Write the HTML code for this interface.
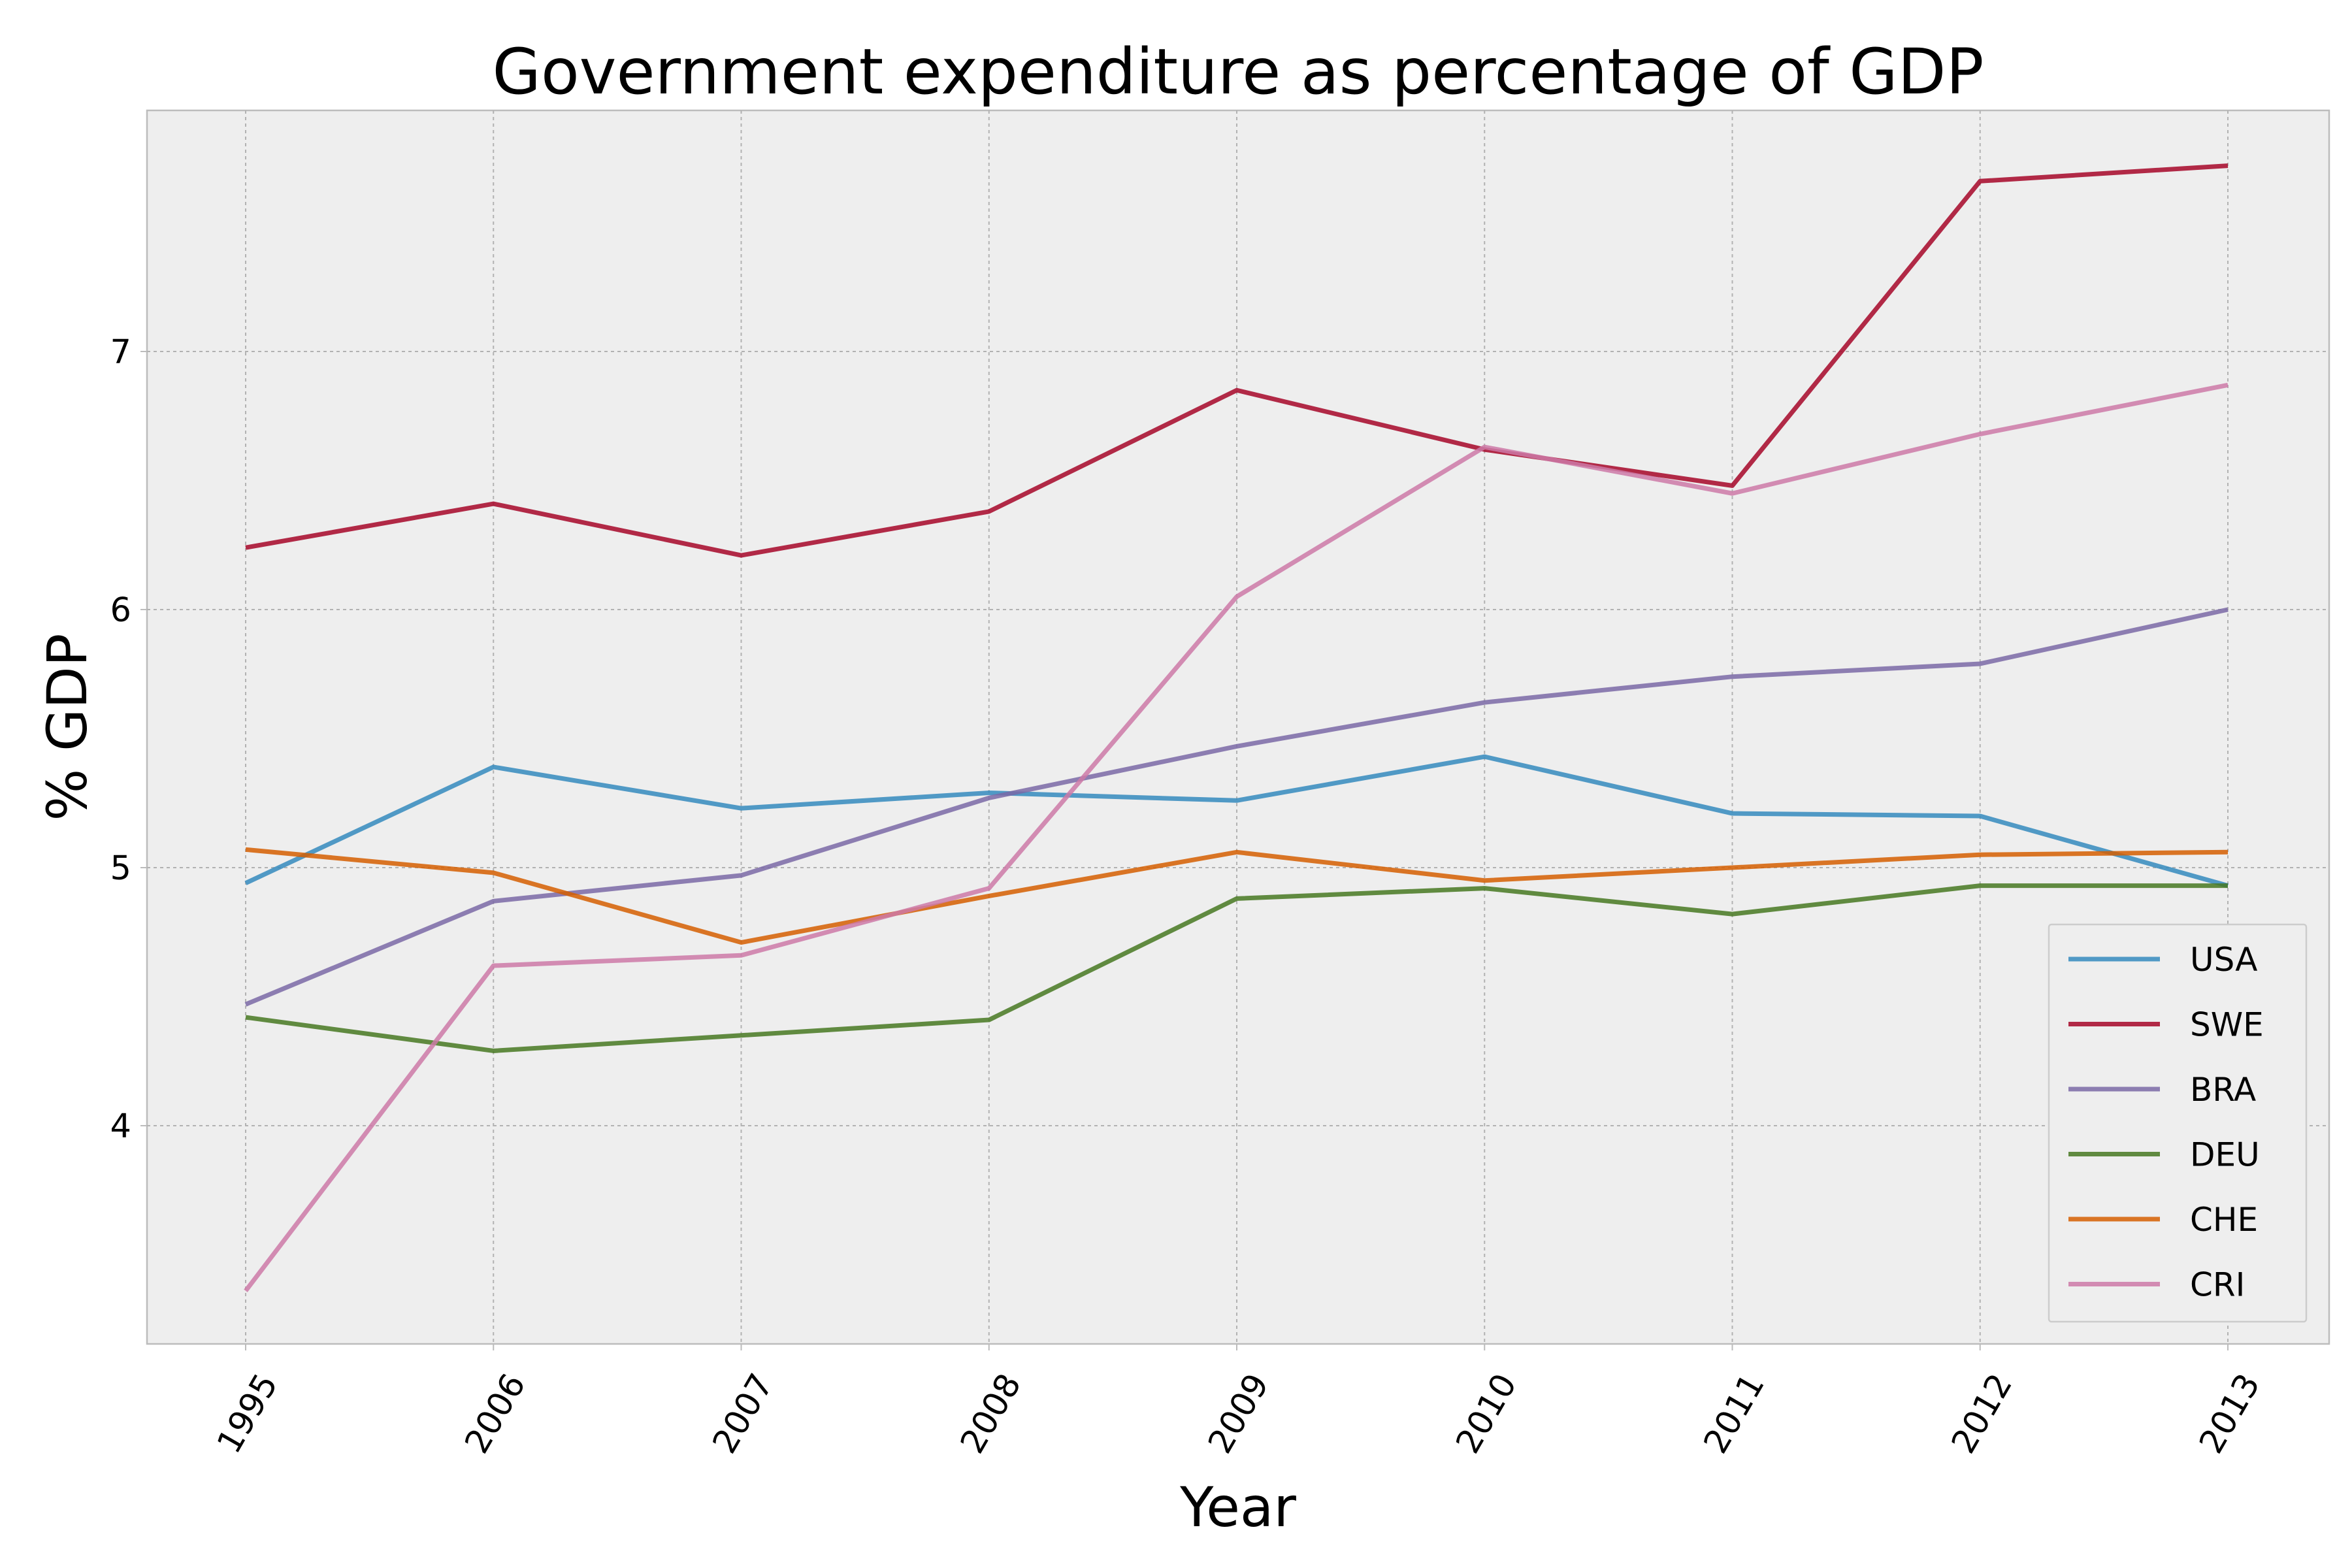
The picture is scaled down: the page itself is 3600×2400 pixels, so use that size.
<!DOCTYPE html>
<html><head><meta charset="utf-8"><style>
html,body{margin:0;padding:0;background:#fff;}
svg{display:block;font-family:"DejaVu Sans","Liberation Sans",sans-serif;}
</style></head><body>
<svg id="chart" width="3600" height="2400" viewBox="0 0 3600 2400" xmlns="http://www.w3.org/2000/svg">
<rect x="0" y="0" width="3600" height="2400" fill="#fff"/>
<rect x="225" y="169" width="3340" height="1888" fill="#eeeeee" stroke="#bcbcbc" stroke-width="2.5"/>
<g id="grid"></g>
<g id="xticks"></g>
<g id="yticks"></g>
<g id="series"></g>
<text x="1895" y="143" font-size="96" text-anchor="middle">Government expenditure as percentage of GDP</text>
<text x="1895" y="2336" font-size="84" text-anchor="middle">Year</text>
<text transform="translate(132,1113) rotate(-90)" font-size="84" text-anchor="middle">% GDP</text>
<g id="legend">
<rect x="3136" y="1415" width="394" height="608" fill="#eeeeee" stroke="#cccccc" stroke-width="2.5" rx="4"/>
</g>
</svg>
<script>
const years=["1995","2006","2007","2008","2009","2010","2011","2012","2013"];
const seriesNames=["USA","SWE","BRA","DEU","CHE","CRI"];
const usa=[4.94,5.39,5.23,5.29,5.26,5.43,5.21,5.20,4.93];
const swe=[6.24,6.41,6.21,6.38,6.85,6.62,6.48,7.66,7.72];
const bra=[4.47,4.87,4.97,5.27,5.47,5.64,5.74,5.79,6.00];
const deu=[4.42,4.29,4.35,4.41,4.88,4.92,4.82,4.93,4.93];
const che=[5.07,4.98,4.71,4.89,5.06,4.95,5.00,5.05,5.06];
const cri=[3.36,4.62,4.66,4.92,6.05,6.63,6.45,6.68,6.87];
const yTicks=[4,5,6,7];
const colors=["#348ABD","#A60628","#7A68A6","#467821","#D55E00","#CC79A7"];
const allSeries=[usa,swe,bra,deu,che,cri];
const NS="http://www.w3.org/2000/svg";
const L=225,R=3565,T=169,B=2057;
const x0=376,x1=3410;
function xs(i){return x0+(x1-x0)*i/(years.length-1);}
function ys(v){return 538+(7-v)*395;}
function mk(tag,attrs,parent){const e=document.createElementNS(NS,tag);for(const k in attrs)e.setAttribute(k,attrs[k]);parent.appendChild(e);return e;}
const grid=document.getElementById('grid'),xt=document.getElementById('xticks'),yt=document.getElementById('yticks'),sg=document.getElementById('series'),lg=document.getElementById('legend');
years.forEach((y,i)=>{
  const x=xs(i);
  const gl=mk('line',{x1:x,x2:x,y1:T,y2:B,stroke:'#b2b2b2','stroke-width':2,'stroke-dasharray':'5,5'},grid);
  
  
  mk('line',{x1:x,x2:x,y1:B,y2:B+10,stroke:'#bcbcbc','stroke-width':2},xt);
  const t=mk('text',{transform:`translate(${x+38},${B+52}) rotate(-60)`,'font-size':51,'text-anchor':'end','dominant-baseline':'middle'},xt);
  t.textContent=y;
  
  
});
yTicks.forEach(v=>{
  const y=ys(v);
  const gl=mk('line',{x1:L,x2:R,y1:y,y2:y,stroke:'#b2b2b2','stroke-width':2,'stroke-dasharray':'5,5'},grid);
  
  
  mk('line',{x1:L-10,x2:L,y1:y,y2:y,stroke:'#bcbcbc','stroke-width':2},yt);
  const t=mk('text',{x:L-24,y:y+18,'font-size':51,'text-anchor':'end'},yt);
  t.textContent=v;
  
  
});
allSeries.forEach((s,k)=>{
  const pts=s.map((v,i)=>xs(i)+','+ys(v)).join(' ');
  const p=mk('polyline',{points:pts,fill:'none',stroke:colors[k],'stroke-width':7,'stroke-opacity':0.85,'stroke-linejoin':'round'},sg);
  
  
  const ly=1468+k*99.5;
  const ll=mk('line',{x1:3166,x2:3306,y1:ly,y2:ly,stroke:colors[k],'stroke-width':7,'stroke-opacity':0.85},lg);
  
  
  const lt=mk('text',{x:3352,y:ly+18,'font-size':50},lg);
  lt.textContent=seriesNames[k];
  
  
});
</script>
</body></html>
